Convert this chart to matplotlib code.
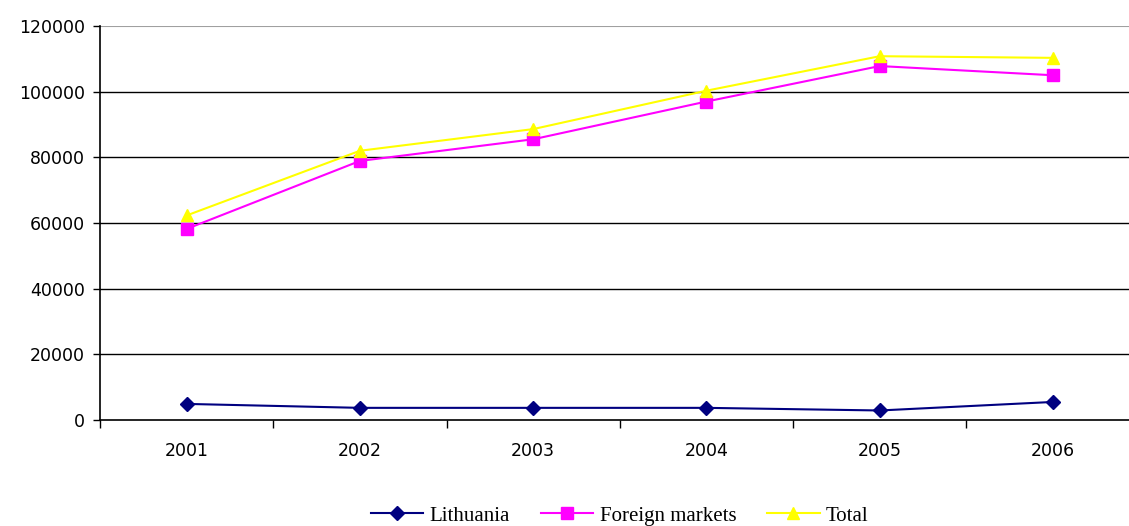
import matplotlib.pyplot as plt
import numpy as np
from matplotlib.ticker import FixedLocator

years = ["2001", "2002", "2003", "2004", "2005", "2006"]
lithuania = [4900, 3700, 3700, 3700, 2900, 5500]
foreign = [58200, 78900, 85500, 97000, 107800, 105000]
total = [62300, 82000, 88600, 100300, 110800, 110300]

fig = plt.figure(figsize=(11.29, 5.26), dpi=100)
ax = fig.add_axes([100 / 1129, 1 - 420 / 526, 1 - 100 / 1129, (420 - 26) / 526])

x = np.arange(len(years))
ax.plot(x, lithuania, color="#000080", marker="D", markersize=7, linewidth=1.5, label="Lithuania")
ax.plot(x, foreign, color="#ff00ff", marker="s", markersize=8, linewidth=1.5, label="Foreign markets")
ax.plot(x, total, color="#ffff00", marker="^", markersize=9, linewidth=1.5, label="Total")

ax.set_xlim(-0.5, (1129 - 186.5) / 173.3)
ax.set_ylim(0, 120000)

# gridlines
for yv in range(20000, 120000, 20000):
    ax.axhline(yv, color="black", linewidth=1, zorder=0)
ax.axhline(120000, color="#a0a0a0", linewidth=1.5, zorder=0)

ax.set_yticks(range(0, 120001, 20000))
ax.set_yticklabels([str(v) for v in range(0, 120001, 20000)], fontsize=12.5)
ax.tick_params(axis="y", length=5, width=1, pad=6)

ax.set_xticks(x)
ax.set_xticklabels(years, fontsize=12.5)
ax.tick_params(axis="x", which="major", length=0, pad=16)
ax.xaxis.set_minor_locator(FixedLocator(np.arange(-0.5, 5.5, 1.0)))
ax.tick_params(axis="x", which="minor", length=6, width=1)

for s in ["top", "right"]:
    ax.spines[s].set_visible(False)
ax.spines["left"].set_linewidth(1.2)
ax.spines["bottom"].set_linewidth(1.2)

fig.legend(loc="lower center", bbox_to_anchor=(0.549, -0.035), ncol=3, frameon=False,
           prop={"family": "Liberation Serif", "size": 15}, handlelength=2.5,
           columnspacing=1.5, handletextpad=0.3)

fig.savefig("out.png", dpi=100)
